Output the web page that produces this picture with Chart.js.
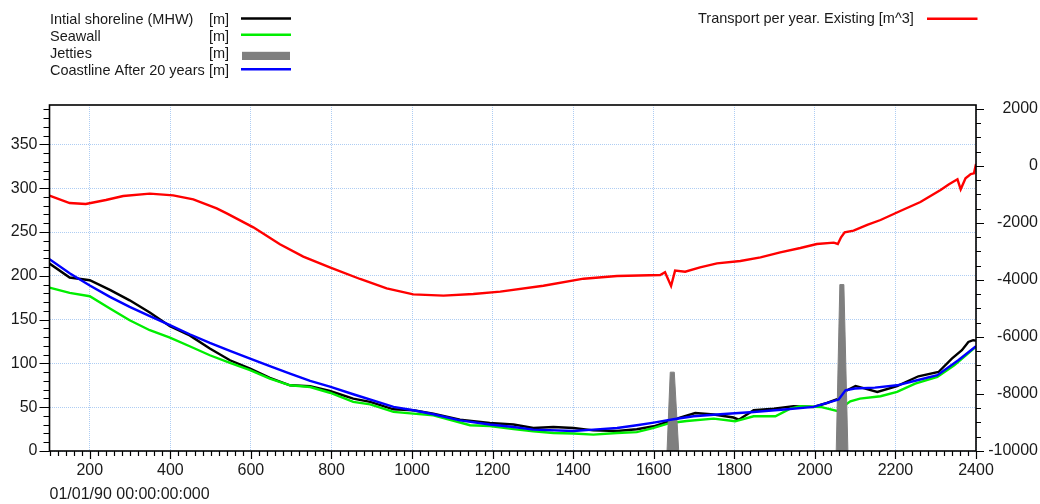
<!DOCTYPE html>
<html>
<head>
<meta charset="utf-8">
<script src="https://cdn.jsdelivr.net/npm/chart.js@4/dist/chart.umd.min.js"></script>
<style>
  html, body { margin: 0; padding: 0; background: #ffffff; }
  #wrap { width: 1040px; height: 504px; position: relative; }
</style>
</head>
<body>
<div id="wrap"><canvas id="c" width="1040" height="504"></canvas></div>
<script>
// ---------- Data ----------
const xTickLabels = [200, 400, 600, 800, 1000, 1200, 1400, 1600, 1800, 2000, 2200, 2400];
const leftTickLabels = [0, 50, 100, 150, 200, 250, 300, 350];
const rightTickLabels = [-10000, -8000, -6000, -4000, -2000, 0, 2000];
const dateLabel = '01/01/90 00:00:00:000';

const seriesNames = ['Intial shoreline (MHW)', 'Seawall', 'Jetties', 'Coastline After 20 years'];
const seriesUnits = ['[m]', '[m]', '[m]', '[m]'];
const transportName = 'Transport per year. Existing [m^3]';

const shorelineX = [100,150,200,250,299,349,399,448,498,548,598,647,697,747,796,854,896,954,1003,1053,1119,1193,1252,1301,1351,1401,1450,1509,1558,1600,1641,1665,1703,1749,1798,1811,1848,1898,1947,1997,2030,2059,2072,2101,2155,2204,2257,2307,2340,2365,2381,2393,2400];
const shorelineY = [214,198,195,184,172,158,142.5,132,117,103.6,94,83.4,75,74,68.5,59.8,56,47.6,46.5,42.7,35.8,32,30.2,26.3,27.4,26.3,23.6,22.8,24.8,28.2,34.3,38.2,43.4,41.6,38.2,35.8,46.5,48.4,51,50.3,54.8,59.8,67.4,74.3,67.4,74,85.3,90.2,105.5,115,124.5,126.5,126];

const seawallX = [100,150,200,250,299,349,399,448,498,548,598,647,697,747,796,854,896,954,1003,1053,1144,1193,1252,1301,1351,1401,1450,1509,1558,1600,1641,1682,1749,1802,1848,1902,1939,1964,2014,2055,2088,2112,2163,2204,2249,2304,2346,2400];
const seawallY = [186.6,180.5,176.7,162.7,149.3,137.9,129.5,119.6,109.3,100.5,92.2,82.7,75,73,66.5,56,53.3,44.6,42.7,40.8,29.4,28.6,25,22.5,20.6,19.9,18.7,20.6,21.5,26.3,32,34.3,37,33.9,39.6,39.6,48.4,51,50.3,45.7,56.8,59.8,62.5,67.4,77,84.5,97.9,119];

const jetty1X = [1633, 1641, 1651, 1662];
const jetty1Y = [0, 90, 90, 0];
const jetty2X = [2053, 2062, 2072, 2082];
const jetty2Y = [0, 190, 190, 0];

const coastX = [100,150,200,250,299,349,399,448,498,548,598,647,697,747,796,854,954,1003,1053,1119,1193,1252,1301,1401,1450,1509,1558,1600,1649,1699,1765,1848,1931,1997,2059,2076,2099,2149,2204,2254,2304,2356,2400];
const coastY = [219,203,189,176,164.5,154,143.6,133.3,123.4,114.2,105.5,96.8,88.4,80,73.5,64.8,50.3,46.5,42,35,30.2,27.4,24.4,22.8,24.4,26.3,29.4,32.4,36.2,39.6,42,44.6,47.6,50.3,58.7,69.3,71.3,72.4,75,80.8,86.5,103.6,119.6];

const transportX = [100,150,190,240,283,349,407,457,515,540,606,672,730,796,871,937,1003,1078,1152,1219,1326,1426,1509,1616,1628,1643,1653,1678,1715,1757,1815,1865,1914,1964,2005,2047,2057,2065,2074,2096,2130,2163,2212,2262,2312,2333,2354,2362,2374,2387,2395,2400];
const transportY = [-1040,-1300,-1333,-1193,-1053,-971,-1029,-1170,-1485,-1661,-2152,-2748,-3181,-3556,-3965,-4292,-4503,-4550,-4491,-4410,-4200,-3954,-3860,-3825,-3730,-4210,-3672,-3708,-3556,-3415,-3333,-3205,-3029,-2877,-2737,-2690,-2737,-2503,-2327,-2269,-2070,-1895,-1579,-1263,-842,-643,-468,-818,-433,-281,-257,70];

const pts = (xs, ys) => xs.map((x, i) => ({ x: x, y: ys[i] }));

// ---------- Styles ----------
const FONT = '"Liberation Sans", Arial, sans-serif';
const TEXT = '#1a1a1a';
const GRID = 'rgba(165,200,242,0.9)';
const colors = { shore: '#000000', seawall: '#00ee00', jetty: '#7f7f7f', coast: '#0000ff', transport: '#ff0000' };

const legendPlugin = {
  id: 'customLegend',
  afterDraw(chart) {
    const ctx = chart.ctx;
    ctx.save();
    ctx.font = '14.5px ' + FONT;
    ctx.fillStyle = TEXT;
    ctx.textBaseline = 'alphabetic';
    ctx.textAlign = 'left';
    const lineYs = [18.5, 34.8, 55.8, 69.2];
    const cols = [colors.shore, colors.seawall, colors.jetty, colors.coast];
    for (let i = 0; i < seriesNames.length; i++) {
      const base = 23.8 + i * 16.9;
      ctx.fillStyle = TEXT;
      ctx.fillText(seriesNames[i], 50, base);
      ctx.fillText(seriesUnits[i], 209, base);
      if (i === 2) {
        ctx.fillStyle = cols[i];
        ctx.fillRect(242, 51.8, 48, 8.2);
      } else {
        ctx.strokeStyle = cols[i];
        ctx.lineWidth = 2.5;
        ctx.beginPath();
        ctx.moveTo(241, lineYs[i]);
        ctx.lineTo(291, lineYs[i]);
        ctx.stroke();
      }
    }
    ctx.fillStyle = TEXT;
    ctx.fillText(transportName, 698, 23.4);
    ctx.strokeStyle = colors.transport;
    ctx.lineWidth = 2.5;
    ctx.beginPath();
    ctx.moveTo(927, 18.7);
    ctx.lineTo(977.5, 18.7);
    ctx.stroke();
    ctx.restore();
  }
};

const framePlugin = {
  id: 'frameTicks',
  afterDraw(chart) {
    const ctx = chart.ctx;
    const a = chart.chartArea;
    const sx = chart.scales.x, sl = chart.scales.y, sr = chart.scales.y2;
    ctx.save();
    ctx.strokeStyle = '#000000';
    ctx.lineWidth = 1.2;
    ctx.beginPath();
    for (let v = 100; v <= 2400; v += 20) {
      const p = Math.round(sx.getPixelForValue(v)) + 0.5;
      const len = (v % 200 === 0) ? 8 : 5;
      ctx.moveTo(p, a.bottom);
      ctx.lineTo(p, a.bottom + len);
    }
    for (let v = 0; v <= 390; v += 10) {
      const p = Math.round(sl.getPixelForValue(v)) + 0.5;
      const len = (v % 50 === 0) ? 10 : 6;
      ctx.moveTo(a.left, p);
      ctx.lineTo(a.left - len, p);
    }
    for (let v = -10000; v <= 2000; v += 500) {
      const p = Math.round(sr.getPixelForValue(v)) + 0.5;
      const len = (v % 2000 === 0) ? 8 : 5;
      ctx.moveTo(a.right, p);
      ctx.lineTo(a.right + len, p);
    }
    ctx.stroke();
    ctx.lineWidth = 1.6;
    ctx.strokeRect(a.left, a.top, a.right - a.left, a.bottom - a.top);
    ctx.restore();
  }
};

const lineDs = (label, data, color, order, axis) => ({
  label: label, data: data, borderColor: color, backgroundColor: color,
  borderWidth: 2.4, pointRadius: 0, tension: 0, fill: false, order: order,
  yAxisID: axis || 'y'
});

const plain = (v) => String(v);

new Chart(document.getElementById('c'), {
  type: 'line',
  data: {
    datasets: [
      lineDs(seriesNames[0], pts(shorelineX, shorelineY), colors.shore, 5),
      lineDs(seriesNames[1], pts(seawallX, seawallY), colors.seawall, 4),
      Object.assign(lineDs(seriesNames[2], pts(jetty1X, jetty1Y), colors.jetty, 3), { fill: 'origin', borderWidth: 1 }),
      Object.assign(lineDs(seriesNames[2] + ' ', pts(jetty2X, jetty2Y), colors.jetty, 3), { fill: 'origin', borderWidth: 1 }),
      lineDs(seriesNames[3], pts(coastX, coastY), colors.coast, 2),
      lineDs(transportName, pts(transportX, transportY), colors.transport, 1, 'y2')
    ]
  },
  options: {
    responsive: false,
    animation: false,
    devicePixelRatio: 1,
    layout: { padding: { top: 105, left: 0, right: 2, bottom: 0 } },
    plugins: { legend: { display: false }, tooltip: { enabled: false } },
    scales: {
      x: {
        type: 'linear', position: 'bottom', min: 100, max: 2400,
        afterBuildTicks: (s) => { s.ticks = xTickLabels.map(v => ({ value: v })); },
        afterFit: (s) => { s.height = 53; },
        grid: { color: GRID, lineWidth: 1, drawTicks: false },
        border: { display: false, dash: [1, 1] },
        ticks: { color: TEXT, font: { family: FONT, size: 16 }, padding: 10, maxRotation: 0, autoSkip: false, callback: plain },
        title: { display: true, text: dateLabel, align: 'start', color: TEXT, font: { family: FONT, size: 16 }, padding: { top: 0, bottom: 0 } }
      },
      y: {
        type: 'linear', position: 'left', min: 0, max: 395,
        afterBuildTicks: (s) => { s.ticks = leftTickLabels.map(v => ({ value: v })); },
        afterFit: (s) => { s.width = 49.5; },
        grid: { color: GRID, lineWidth: 1, drawTicks: false },
        border: { display: false, dash: [1, 1] },
        ticks: { color: TEXT, font: { family: FONT, size: 16 }, padding: 12, callback: plain }
      },
      y2: {
        type: 'linear', position: 'right', min: -10000, max: 2140,
        afterBuildTicks: (s) => { s.ticks = rightTickLabels.map(v => ({ value: v })); },
        afterFit: (s) => { s.width = 62; },
        grid: { drawOnChartArea: false, drawTicks: false },
        border: { display: false },
        ticks: { color: TEXT, font: { family: FONT, size: 16 }, padding: 10, crossAlign: 'far', callback: plain }
      }
    }
  },
  plugins: [legendPlugin, framePlugin]
});
</script>
</body>
</html>
